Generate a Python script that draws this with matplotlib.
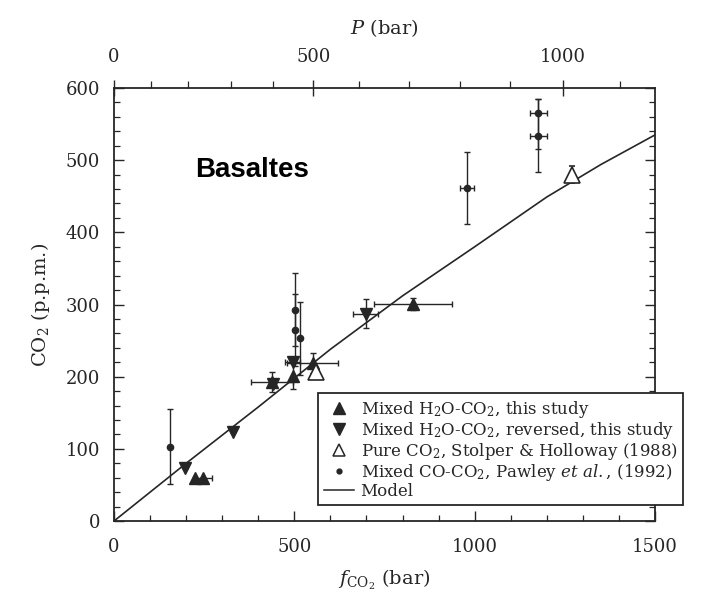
import matplotlib
matplotlib.use('Agg')
import matplotlib.pyplot as plt
from matplotlib.lines import Line2D
from matplotlib.ticker import MultipleLocator, FixedLocator
import numpy as np

plt.rcParams['font.family'] = ['DejaVu Serif']
plt.rcParams['mathtext.fontset'] = 'dejavuserif'

# model curve (fCO2 in bar, CO2 in ppm)
model_f = [0, 200, 400, 600, 800, 1000, 1200, 1350, 1500]
model_co2 = [0, 80, 158, 238, 312, 380, 449, 494, 535]

# mixed H2O-CO2, this study (up triangles)
up_f = [225, 248, 437, 495, 551, 830]
up_co2 = [60, 60, 193, 201, 219, 301]
up_ferr = [0, 25, 58, 0, 70, 108]
up_co2err = [0, 0, 14, 18, 14, 8]

# mixed H2O-CO2, reversed (down triangles)
dn_f = [198, 329, 440, 495, 698]
dn_co2 = [73, 124, 190, 220, 287]
dn_ferr = [0, 0, 0, 20, 35]
dn_co2err = [0, 0, 0, 0, 20]

# pure CO2, Stolper & Holloway (open triangles)
pure_f = [561, 1269]
pure_co2 = [207, 480]
pure_co2err = [0, 12]

# mixed CO-CO2, Pawley et al. (dots)
dot_f = [155, 501, 503, 517, 978, 1177, 1177]
dot_co2 = [103, 293, 265, 253, 462, 565, 534]
dot_ferr = [0, 0, 0, 0, 19, 24, 24]
dot_co2_lo = [52, 50, 50, 50, 50, 49, 50]
dot_co2_hi = [52, 50, 50, 50, 50, 20, 51]

# upper axis: pressure ticks placed at their fCO2 equivalent
p_major_labels = ['0', '500', '1000']
p_major_at = [0, 553, 1245]
p_minor_at = [102, 205, 324, 440, 678, 819, 958, 1099, 1403]

ink = '#262626'

fig = plt.figure(figsize=(7.1, 5.96), dpi=100)
ax = fig.add_axes([0.1606, 0.1258, 0.9225 - 0.1606, 0.8523 - 0.1258])

ax.plot(model_f, model_co2, color=ink, lw=1.2, zorder=2)

ax.errorbar(dot_f, dot_co2, xerr=dot_ferr, yerr=[dot_co2_lo, dot_co2_hi], fmt='o',
            ms=4.5, color=ink, ecolor=ink, elinewidth=1.0, capsize=2.5, zorder=3)
ax.errorbar(up_f, up_co2, xerr=up_ferr, yerr=up_co2err, fmt='^', ms=9,
            color=ink, ecolor=ink, elinewidth=1.0, capsize=2.5, zorder=4)
ax.errorbar(dn_f, dn_co2, xerr=dn_ferr, yerr=dn_co2err, fmt='v', ms=9,
            color=ink, ecolor=ink, elinewidth=1.0, capsize=2.5, zorder=4)
ax.errorbar(pure_f, pure_co2, yerr=pure_co2err, fmt='^', ms=11, mfc='white',
            mec=ink, mew=1.2, ecolor=ink, elinewidth=1.0, capsize=2.5, zorder=5)

ax.set_xlim(0, 1500)
ax.set_ylim(0, 600)
ax.xaxis.set_major_locator(MultipleLocator(500))
ax.xaxis.set_minor_locator(MultipleLocator(100))
ax.yaxis.set_major_locator(MultipleLocator(100))
ax.yaxis.set_minor_locator(MultipleLocator(20))
ax.tick_params(which='both', direction='in', top=False, right=True,
               labelsize=13, colors=ink, pad=10)
ax.tick_params(axis='x', pad=12)
ax.tick_params(which='major', length=7, width=1.0)
ax.tick_params(which='minor', length=4, width=0.9)
for s in ax.spines.values():
    s.set_linewidth(1.3)
    s.set_color(ink)

ax.set_xlabel(r'$f_{\rm CO_2}$ (bar)', fontsize=14, color=ink, labelpad=9)
ax.set_ylabel(r'CO$_2$ (p.p.m.)', fontsize=14, color=ink, labelpad=10)

top = ax.twiny()
top.set_xlim(ax.get_xlim())
top.xaxis.set_major_locator(FixedLocator(p_major_at))
top.set_xticklabels(p_major_labels)
top.xaxis.set_minor_locator(FixedLocator(p_minor_at))
top.tick_params(which='major', direction='inout', length=12, width=1.0,
                labelsize=13, colors=ink, pad=10)
top.tick_params(which='minor', direction='out', length=5, width=0.9, colors=ink)
top.set_xlabel(r'$P$ (bar)', fontsize=14, color=ink, labelpad=10)
for s in top.spines.values():
    s.set_visible(False)

ax.text(225, 487, 'Basaltes', fontsize=20, fontweight='bold',
        family='Liberation Sans', va='center', ha='left', color='black')

handles = [
    Line2D([], [], ls='none', marker='^', ms=8, color=ink),
    Line2D([], [], ls='none', marker='v', ms=8, color=ink),
    Line2D([], [], ls='none', marker='^', ms=9, mfc='white', mec=ink, mew=1.1),
    Line2D([], [], ls='none', marker='o', ms=3.5, color=ink),
    Line2D([], [], color=ink, lw=1.1),
]
labels = [
    r'Mixed H$_2$O-CO$_2$, this study',
    r'Mixed H$_2$O-CO$_2$, reversed, this study',
    r'Pure CO$_2$, Stolper & Holloway (1988)',
    r'Mixed CO-CO$_2$, Pawley $et\ al.$, (1992)',
    'Model',
]
leg = fig.legend(handles, labels, loc='upper left', bbox_to_anchor=(0.448, 0.341),
                 fontsize=12, frameon=True, fancybox=False, framealpha=1,
                 edgecolor=ink, labelspacing=0.0, handlelength=1.8,
                 handletextpad=0.4, borderpad=0.35, borderaxespad=0)
leg.get_frame().set_linewidth(1.3)
for t in leg.get_texts():
    t.set_color(ink)

fig.savefig('out.png', dpi=100)
